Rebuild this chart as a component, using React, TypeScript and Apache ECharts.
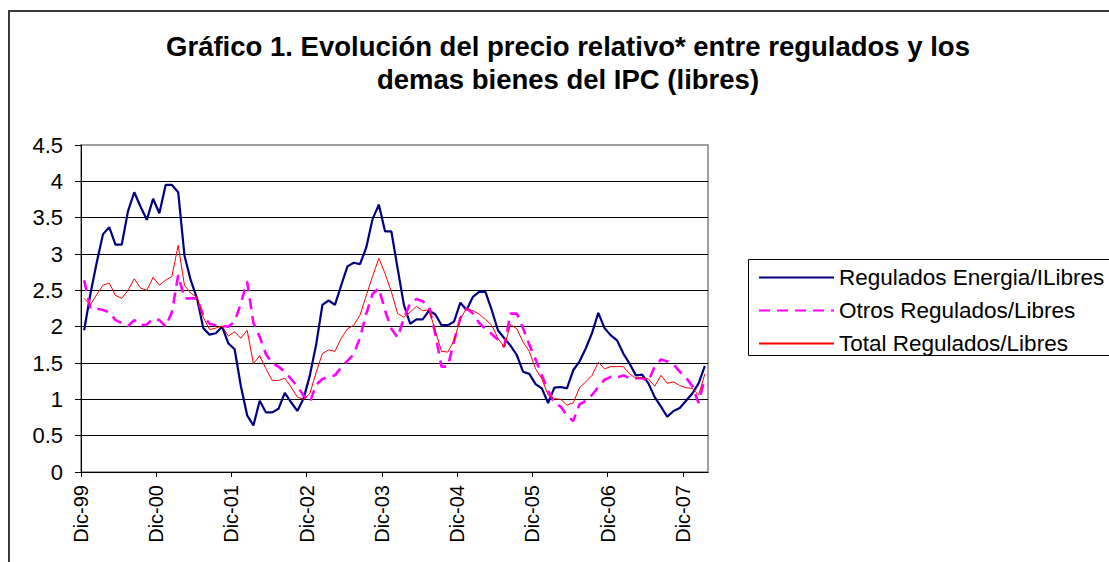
import React, { useEffect, useRef } from "react";
import * as echarts from "echarts";

const FONT = "'Liberation Sans', Arial, sans-serif";

const TITLE_LINES = [
  "Gráfico 1. Evolución del precio relativo* entre regulados y los",
  "demas bienes del IPC (libres)",
];

const SERIES_NAMES = [
  "Regulados Energia/ILibres",
  "Otros Regulados/Libres",
  "Total Regulados/Libres",
];

const MONTHS = ["Ene", "Feb", "Mar", "Abr", "May", "Jun", "Jul", "Ago", "Sep", "Oct", "Nov", "Dic"];

const xTickLabels = ["Dic-99", "Dic-00", "Dic-01", "Dic-02", "Dic-03", "Dic-04", "Dic-05", "Dic-06", "Dic-07"];

const yTicks = { min: 0, max: 4.5, step: 0.5 };

// Regulados Energia / Libres (Dic-99 .. Mar-08)
const energia = [
  1.95, 2.45, 2.88, 3.27, 3.37, 3.13, 3.13, 3.59, 3.85, 3.65,
  3.47, 3.76, 3.56, 3.95, 3.95, 3.85, 2.98, 2.64, 2.39, 1.98,
  1.89, 1.91, 2.0, 1.77, 1.69, 1.18, 0.78, 0.64, 0.98, 0.82,
  0.82, 0.87, 1.09, 0.96, 0.84, 1.01, 1.33, 1.75, 2.3, 2.36,
  2.3, 2.57, 2.83, 2.88, 2.86, 3.09, 3.48, 3.68, 3.31, 3.31,
  2.8, 2.3, 2.04, 2.1, 2.1, 2.22, 2.17, 2.02, 2.02, 2.07,
  2.33, 2.23, 2.41, 2.48, 2.48, 2.23, 1.95, 1.84, 1.74, 1.61,
  1.38, 1.35, 1.21, 1.15, 0.95, 1.16, 1.17, 1.15, 1.4, 1.52,
  1.7, 1.91, 2.19, 1.98, 1.88, 1.81, 1.63, 1.49, 1.33, 1.34,
  1.22, 1.03, 0.9, 0.76, 0.84, 0.88, 0.98, 1.08, 1.22, 1.46,
];

// Otros Regulados / Libres
const otros = [
  2.64, 2.25, 2.25, 2.23, 2.2, 2.09, 2.05, 2.01, 2.09, 2.02,
  2.03, 2.11, 2.09, 2.0, 2.2, 2.71, 2.39, 2.39, 2.39, 2.15,
  2.04, 2.02, 2.01, 2.0, 2.07, 2.32, 2.62, 2.05, 1.86, 1.62,
  1.5, 1.45, 1.38, 1.28, 1.18, 1.05, 0.96, 1.2, 1.28, 1.31,
  1.33, 1.44, 1.53, 1.62, 1.85, 2.18, 2.45, 2.53, 2.22, 1.97,
  1.85, 2.12, 2.32, 2.38, 2.35, 2.28, 1.9, 1.45, 1.45, 1.8,
  2.12, 2.25, 2.18, 2.05, 1.97, 1.9, 1.82, 1.72, 2.18, 2.18,
  1.98, 1.75, 1.55, 1.33, 1.12, 0.95, 0.9, 0.78, 0.7, 0.93,
  0.98, 1.06, 1.17, 1.27, 1.31, 1.3, 1.33, 1.29, 1.29, 1.29,
  1.25, 1.45, 1.55, 1.52, 1.48, 1.38, 1.3, 1.18, 0.95, 1.3,
];

// Total Regulados / Libres
const total = [
  2.39, 2.3, 2.44, 2.57, 2.6, 2.43, 2.39, 2.5, 2.66, 2.53,
  2.5, 2.68, 2.57, 2.64, 2.69, 3.12, 2.57, 2.46, 2.41, 2.13,
  1.96, 1.98, 2.01, 1.87, 1.93, 1.84, 1.95, 1.49, 1.6, 1.42,
  1.26, 1.26, 1.29, 1.17, 1.03, 1.0, 1.08, 1.37, 1.63, 1.68,
  1.66, 1.84, 1.97, 2.02, 2.16, 2.43, 2.69, 2.94, 2.73, 2.48,
  2.18, 2.13, 2.2, 2.28, 2.22, 2.23, 1.95, 1.66, 1.65, 1.81,
  2.11, 2.25, 2.22, 2.17, 2.1, 2.02, 1.84, 1.72, 2.03, 1.97,
  1.79, 1.66, 1.42, 1.28, 1.06, 1.01, 1.0, 0.92, 0.95, 1.16,
  1.24, 1.33, 1.51, 1.42, 1.45, 1.45, 1.45, 1.35, 1.29, 1.3,
  1.28, 1.18, 1.33, 1.22, 1.24, 1.19, 1.16, 1.15, 1.06, 1.35,
];

function buildCategories(n: number): string[] {
  const out: string[] = [];
  for (let i = 0; i < n; i++) {
    const idx = 11 + i; // start Dic-1999
    const m = idx % 12;
    const y = 1999 + Math.floor(idx / 12);
    out.push(`${MONTHS[m]}-${String(y % 100).padStart(2, "0")}`);
  }
  return out;
}

export default function App() {
  const ref = useRef<HTMLDivElement>(null);

  useEffect(() => {
    if (!ref.current) return;
    const chart = echarts.init(ref.current, undefined, { renderer: "svg" });
    const categories = buildCategories(energia.length);
    // boundary slots (one more than categories) carry the yearly tick labels
    const labelSlots: string[] = [];
    for (let k = 0; k <= categories.length; k++) {
      labelSlots.push(k % 12 === 0 && xTickLabels[k / 12] ? xTickLabels[k / 12] : "");
    }

    chart.setOption({
      animation: false,
      backgroundColor: "#ffffff",
      title: {
        text: TITLE_LINES.join("\n"),
        left: 568,
        top: 30,
        padding: 0,
        textAlign: "center",
        textStyle: {
          fontFamily: FONT,
          fontSize: 27.5,
          fontWeight: "bold",
          color: "#000",
          lineHeight: 33,
        },
      },
      legend: {
        orient: "vertical",
        left: 749,
        top: 259,
        itemWidth: 75,
        itemHeight: 14,
        itemGap: 10,
        padding: [7, 4, 6, 9],
        borderWidth: 0,
        itemStyle: { opacity: 0 },
        textStyle: { fontFamily: FONT, fontSize: 22.5, color: "#000" },
        data: SERIES_NAMES,
      },
      graphic: [
        {
          type: "rect",
          silent: true,
          shape: { x: 9, y: 11, width: 1200, height: 700 },
          style: { fill: "none", stroke: "#3a3a3a", lineWidth: 2 },
        },
        {
          type: "rect",
          silent: true,
          z: -1,
          shape: { x: 748.5, y: 259.5, width: 420, height: 96 },
          style: { fill: "#fff", stroke: "#000", lineWidth: 1 },
        },
      ],
      grid: {
        left: 81,
        top: 145,
        width: 627,
        height: 327,
        show: true,
        borderColor: "#808080",
        borderWidth: 1.5,
        backgroundColor: "transparent",
      },
      xAxis: [
        {
          type: "category",
          data: categories,
          boundaryGap: true,
          position: "bottom",
          axisLine: { show: true, lineStyle: { color: "#000", width: 1 } },
          axisTick: { show: false },
          axisLabel: { show: false },
          splitLine: { show: false },
        },
        {
          type: "category",
          data: labelSlots,
          boundaryGap: false,
          position: "bottom",
          axisLine: { show: false },
          axisTick: { show: true, interval: 11, length: 5, lineStyle: { color: "#000" } },
          axisLabel: {
            interval: 11,
            rotate: 90,
            margin: 13,
            fontFamily: FONT,
            fontSize: 20,
            color: "#000",
          },
          splitLine: { show: false },
        },
      ],
      yAxis: {
        type: "value",
        min: yTicks.min,
        max: yTicks.max,
        interval: yTicks.step,
        axisLine: { show: true, lineStyle: { color: "#000" } },
        axisTick: { show: true, length: 6, lineStyle: { color: "#000" } },
        axisLabel: { fontFamily: FONT, fontSize: 22, margin: 18, color: "#000" },
        splitLine: { show: true, showMaxLine: false, lineStyle: { color: "#000", width: 1 } },
      },
      series: [
        {
          name: SERIES_NAMES[0],
          type: "line",
          xAxisIndex: 0,
          data: energia,
          symbol: "none",
          itemStyle: { color: "#000080" },
          lineStyle: { color: "#000080", width: 2.2 },
        },
        {
          name: SERIES_NAMES[1],
          type: "line",
          xAxisIndex: 0,
          data: otros,
          symbol: "none",
          itemStyle: { color: "#ff00ff" },
          lineStyle: { color: "#ff00ff", width: 2.6, type: [11, 7] },
        },
        {
          name: SERIES_NAMES[2],
          type: "line",
          xAxisIndex: 0,
          data: total,
          symbol: "none",
          itemStyle: { color: "#ff0000" },
          lineStyle: { color: "#ff0000", width: 1 },
        },
      ],
    });

    return () => chart.dispose();
  }, []);

  return (
    <div
      ref={ref}
      style={{ position: "fixed", left: 0, top: 0, width: 1109, height: 562 }}
    />
  );
}
